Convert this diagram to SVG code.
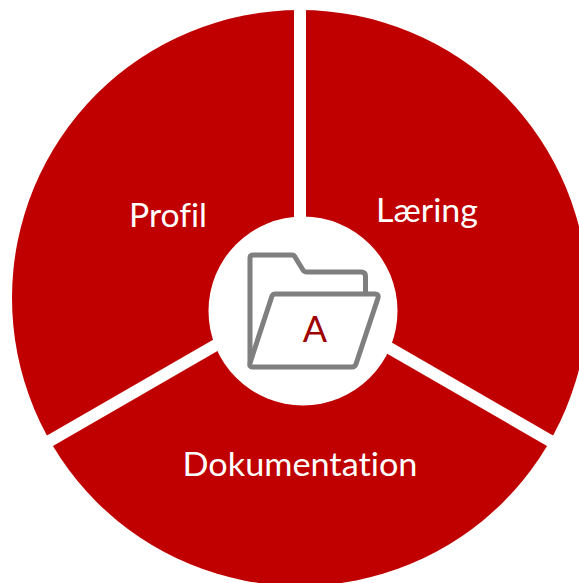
<svg xmlns="http://www.w3.org/2000/svg" width="579" height="583" viewBox="0 0 579 583">
<style>
.seg{fill:#c00000}
.gap{stroke:#fff;stroke-width:12;fill:none}
.lbl{font-family:Lato,"Open Sans","Liberation Sans",sans-serif;font-size:33px;fill:#fff;text-anchor:middle;font-variant-ligatures:none}
.fold{fill:none;stroke:#7f7f7f;stroke-width:5;stroke-linejoin:round;stroke-linecap:round}
</style>
<rect width="579" height="583" fill="#fff"/>
<g id="ring"><circle class="seg" cx="300" cy="298" r="288"/></g>
<g id="connectors">
<path class="gap" d="M300 0V300"/>
<path class="gap" d="M300 296.500L40 446.500"/>
<path class="gap" d="M300 296.500L560 446.500"/>
</g>
<g id="hub"><circle cx="303" cy="311" r="94.500" fill="#fff"/></g>
<g id="profil"><text class="lbl" x="168" y="227" textLength="78" lengthAdjust="spacingAndGlyphs">Profil</text></g>
<g id="laering"><text class="lbl" x="427" y="222" textLength="102" lengthAdjust="spacingAndGlyphs">Læring</text></g>
<g id="dokumentation"><text class="lbl" x="300" y="476" textLength="235" lengthAdjust="spacingAndGlyphs">Dokumentation</text></g>
<g id="folder">
<path class="fold" d="M250 362V258Q250 255 253 255H292Q294 255 295 257L303 270Q304 272 307 272H361Q365.500 272 365.500 276V293"/>
<path class="fold" d="M250 363L272 296Q273 294 275 294H375Q379 294 378 298L356 364Q355 367 352 367H252Q249 367 250 363Z"/>
<text x="315" y="342" font-family="Lato,'Open Sans','Liberation Sans',sans-serif" font-size="36" fill="#a00000" text-anchor="middle">A</text>
</g>
</svg>
